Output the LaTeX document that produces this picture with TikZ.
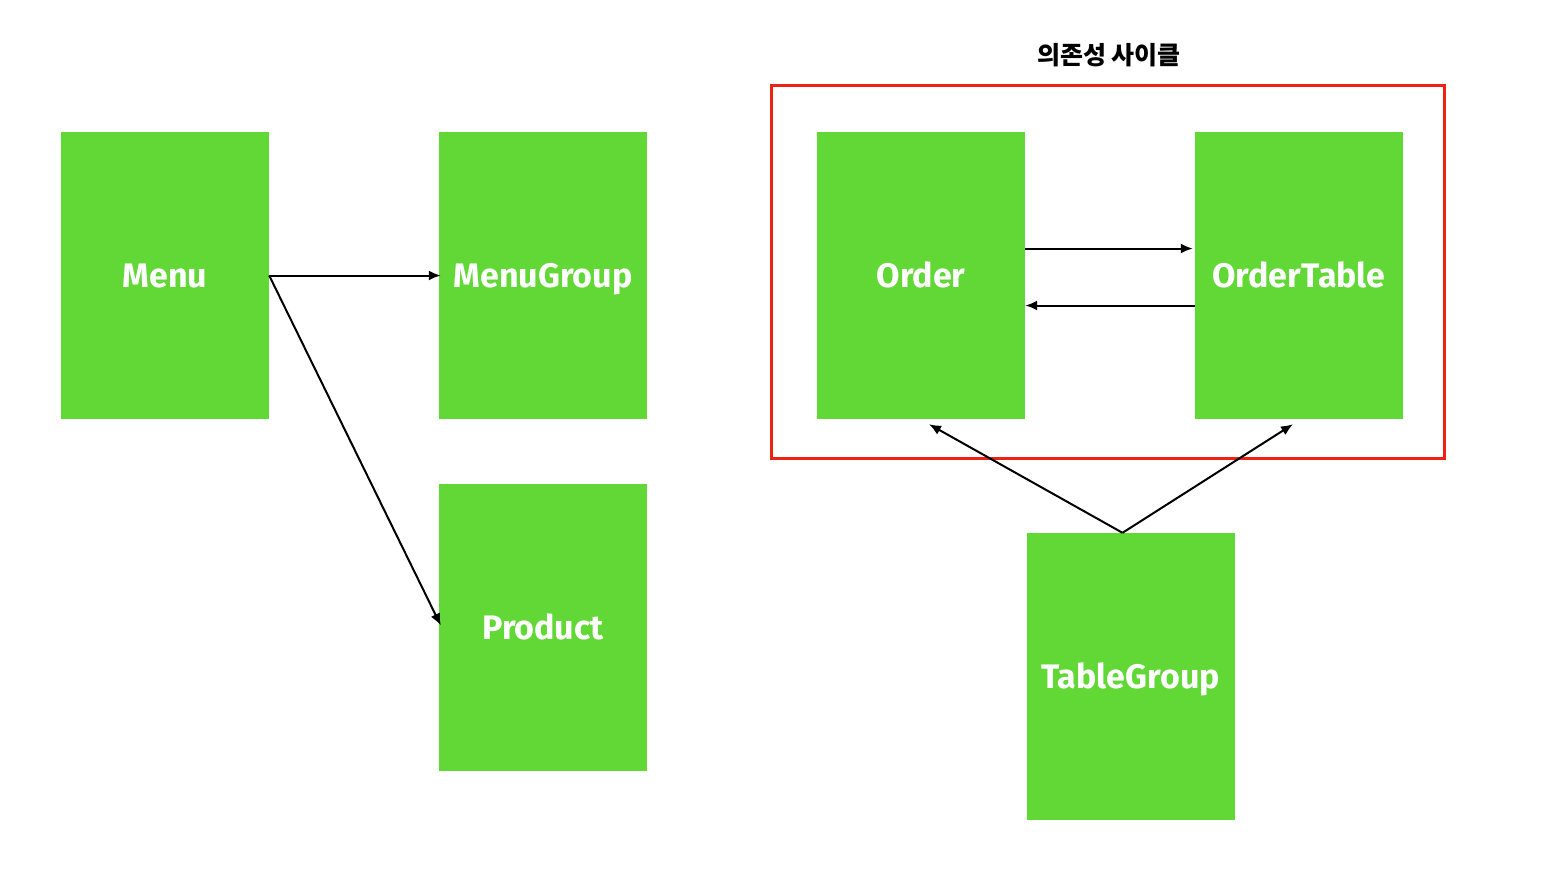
\documentclass[tikz,border=0pt]{standalone}
\usepackage{fontspec}
\usepackage{tikz}
\usetikzlibrary{calc,arrows.meta}
\setmainfont{Fira Sans}
\newfontfamily\korean{Noto Sans CJK KR}
\definecolor{boxgreen}{HTML}{61D836}
\definecolor{cyclered}{HTML}{EE2211}

\begin{document}
\begin{tikzpicture}[x=1pt,y=-1pt]
  \tikzset{entity/.style={fill=boxgreen, minimum width=208pt, minimum height=287pt,
    inner sep=0pt, text=white, text height=24pt, text depth=0pt,
    font=\fontsize{34}{40}\selectfont\bfseries},
    dep/.style={-{Latex[length=12pt,width=10pt]}, line width=2pt}}
  \useasboundingbox (0,0) rectangle (1544,884);

  %% Entity boxes
  \node[entity] (Menu)       at (165,275.5)  {Menu};
  \node[entity] (MenuGroup)  at (543,275.5)  {MenuGroup};
  \node[entity] (Product)    at (543,627.5)  {Product};
  \node[entity] (Order)      at (921,275.5)  {Order};
  \node[entity] (OrderTable) at (1299,275.5) {OrderTable};
  \node[entity] (TableGroup) at (1130.5,676.5) {TableGroup};

  %% Cycle frame and its title
  \node[draw=cyclered, line width=3pt, minimum width=673pt, minimum height=373pt,
    inner sep=0pt] (cycle) at (1107.5,271.5) {};
  \node[font=\korean\fontsize{25}{30}\selectfont\bfseries] (title) at (1109,55) {의존성 사이클};

  %% Dependencies
  \draw[dep] (Menu.east) -- ($(MenuGroup.west)+(2,0)$);
  \draw[dep] (Menu.east) -- ($(Product.west)+(2,-2)$);
  \draw[dep] ($(Order.east)+(0,-27)$) -- ($(OrderTable.west)+(-2,-27)$);
  \draw[dep] ($(OrderTable.west)+(0,30)$) -- ($(Order.east)+(0,30)$);
  \draw[dep] ($(TableGroup.north)+(-8,0)$) -- ($(Order.south)+(8,5)$);
  \draw[dep] ($(TableGroup.north)+(-8,0)$) -- ($(OrderTable.south)+(-6,5)$);
\end{tikzpicture}
\end{document}
